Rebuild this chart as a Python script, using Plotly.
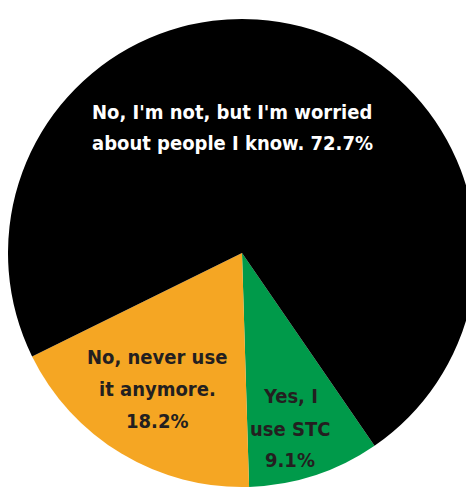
import plotly.graph_objects as go

# Data
labels = ["Yes, I use STC", "No, never use it anymore.", "No, I'm not, but I'm worried about people I know."]
values = [9.1, 18.2, 72.7]
label_lines = [
    ["Yes, I", "use STC", "9.1%"],
    ["No, never use", "it anymore.", "18.2%"],
    ["No, I'm not, but I'm worried", "about people I know. 72.7%"],
]
colors = ["#009A4A", "#F5A623", "#000000"]
text_colors = ["#231F20", "#231F20", "#FFFFFF"]

W, H = 474, 489
OFF = 8  # page body offset in the screenshot

fig = go.Figure()
# pie centre at (234, 245) in figure px, radius 234
fig.add_trace(go.Pie(
    labels=labels,
    values=values,
    marker=dict(colors=colors, line=dict(width=0)),
    sort=False,
    direction="clockwise",
    rotation=145.5,
    textinfo="none",
    hoverinfo="label+percent",
    showlegend=False,
    domain=dict(x=[0.0, 468 / W], y=[10 / H, 478 / H]),
))

# label line centres in screenshot px
line_pos = [
    [(290, 396), (290, 429), (290, 460)],
    [(157, 357), (157, 389), (157, 421)],
    [(232, 112), (232, 143)],
]
font_family = "Liberation Sans Narrow, Arial Narrow, DejaVu Sans Condensed, sans-serif"
for i in range(len(values)):
    for txt, (sx, sy) in zip(label_lines[i], line_pos[i]):
        fig.add_annotation(
            x=(sx - OFF) / W, y=1 - (sy - OFF) / H, xref="paper", yref="paper",
            text="<b>" + txt + "</b>", showarrow=False,
            xanchor="center", yanchor="middle", align="center",
            font=dict(family=font_family, size=20, color=text_colors[i]),
        )

fig.update_layout(
    width=W, height=H,
    margin=dict(l=0, r=0, t=0, b=0),
    paper_bgcolor="white", plot_bgcolor="white",
)
fig.write_html("out.html")
